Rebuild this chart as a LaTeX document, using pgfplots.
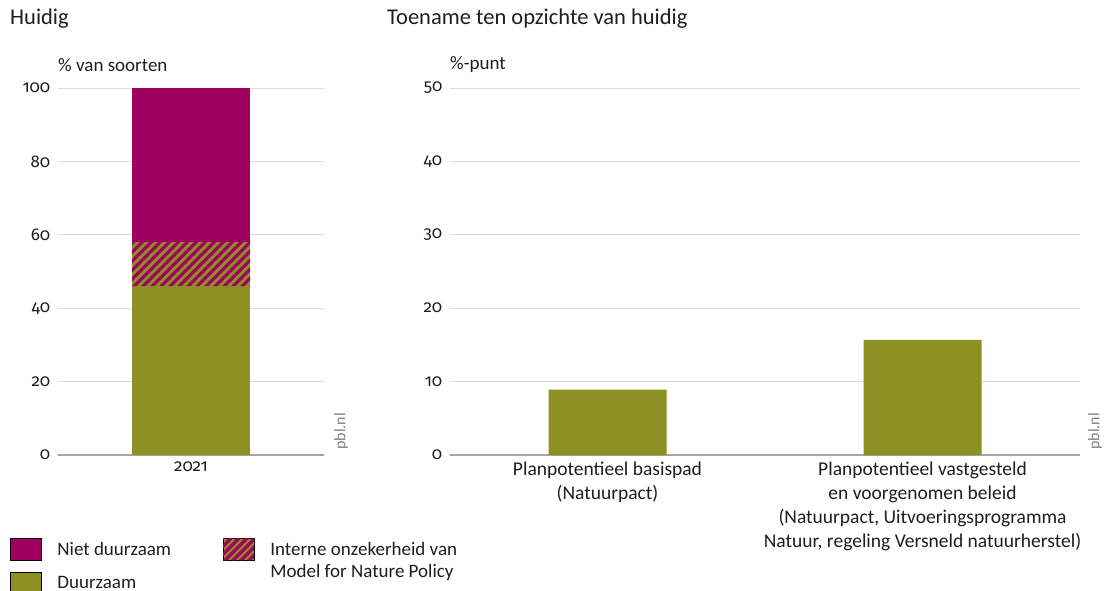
\documentclass[border=0pt]{standalone}
\usepackage{fontspec}
\setmainfont{Carlito}
\newfontfamily\numfont{Fira Sans}[Numbers={OldStyle,Proportional}]
\usepackage{pgfplots}
\pgfplotsset{compat=1.18}
\definecolor{paars}{HTML}{A0005F}
\definecolor{groen}{HTML}{8D9124}
\definecolor{gridc}{HTML}{DCDCDC}
\definecolor{axgray}{HTML}{A5A5A5}
\definecolor{txt}{HTML}{1E1E1E}
\pgfplotsset{
  pbl/.style={
    scale only axis, height=367pt, ymin=0,
    clip=false,
    axis lines*=left,
    y axis line style={draw=none},
    x axis line style={draw=axgray, line width=1.2pt},
    ymajorgrids, grid style={draw=gridc, line width=0.9pt},
    tick style={draw=none}, major tick length=0pt,
    /pgf/number format/assume math mode=true,
    yticklabel style={anchor=east, inner sep=0pt, xshift=-7.5pt, font=\numfont\fontsize{17}{20}\selectfont, text=txt},
    xticklabel style={anchor=north, inner sep=0pt, yshift=-7pt, align=center, text=txt},
    bar width=118pt,
  },
  sq/.style={legend image code/.code={\path[#1] (0pt,-11pt) rectangle (31pt,11pt);}},
  sqstripes/.style={legend image code/.code={%
    \fill[groen] (0pt,-11pt) rectangle (31pt,11pt);
    \begin{scope}
    \clip (0pt,-11pt) rectangle (31pt,11pt);
    \foreach \k in {-6,...,6} {\fill[paars] (\k*8pt,-11pt) -- ++(4pt,0pt) -- ++(40pt,40pt) -- ++(-4pt,0pt) -- cycle;}
    \end{scope}}},
}
\begin{document}
\begin{tikzpicture}[x=1pt,y=1pt]
\path[use as bounding box] (0,0) rectangle (1104,590);
\node[anchor=base west, inner sep=0pt, font=\fontsize{22.5}{26}\selectfont, text=txt] at (10,565) {Huidig};
\node[anchor=base west, inner sep=0pt, font=\fontsize{22.5}{26}\selectfont, text=txt] at (387,565) {Toename ten opzichte van huidig};

% Left axis
\begin{axis}[pbl,
  at={(58pt,135pt)}, anchor=south west,
  width=266pt, ymax=100, ytick={0,20,...,100},
  xmin=-0.5, xmax=0.5, xtick={0}, xticklabels={2021},
  xticklabel style={font=\numfont\fontsize{17}{20}\selectfont},
  ybar stacked, reverse stacked plots=false,
  legend style={at={(-0.1805,-0.2262)}, anchor=north west, draw=none, fill=none,
    inner sep=0pt, outer sep=0pt, font=\fontsize{19}{23}\selectfont,
    /tikz/column sep=16pt, /tikz/row sep=12pt, nodes={inner sep=0pt, text=txt}},
  legend cell align=left,
]
\addplot[fill=groen, draw=none, forget plot] coordinates {(0,46)};
\addplot[fill=groen, draw=none, forget plot] coordinates {(0,12)};
\addplot[fill=paars, draw=none, forget plot] coordinates {(0,42)};
% diagonal stripes over the uncertainty segment (46 to 58)
\pgfplotsextra{%
  \path (axis cs:0,46) coordinate (hb);
  \path (axis cs:0,58) coordinate (ht);
  \begin{scope}
  \clip ([xshift=-59pt]hb) rectangle ([xshift=59pt]ht);
  \begin{scope}[shift={([xshift=-59pt]hb)}]
  \foreach \k in {-8,...,14} {\fill[paars] (\k*9pt,0pt) -- ++(4.5pt,0pt) -- ++(60pt,60pt) -- ++(-4.5pt,0pt) -- cycle;}
  \end{scope}
  \end{scope}}
\addlegendimage{sq={fill=paars}}
\addlegendentry{Niet duurzaam}
\addlegendimage{sq={fill=groen}}
\addlegendentry{Duurzaam}
\node[anchor=west, inner sep=0pt, font=\fontsize{19}{23}\selectfont, text=txt] at (axis description cs:0,1.0627) {\% van soorten};
\node[rotate=90, anchor=west, inner sep=0pt, font=\fontsize{16}{19}\selectfont, text=gray] at (axis description cs:1.064,0.014) {pbl.nl};
\end{axis}

% Right axis
\begin{axis}[pbl,
  at={(450pt,135pt)}, anchor=south west,
  width=630pt, ymax=50, ytick={0,10,...,50},
  xmin=-0.5, xmax=1.5, xtick={0,1},
  xticklabels={{Planpotentieel basispad\\(Natuurpact)},{Planpotentieel vastgesteld\\en voorgenomen beleid\\(Natuurpact, Uitvoeringsprogramma\\Natuur, regeling Versneld natuurherstel)}},
  xticklabel style={font=\fontsize{19.5}{24}\selectfont},
  ybar,
  legend style={at={(-0.3603,-0.2262)}, anchor=north west, draw=none, fill=none,
    inner sep=0pt, outer sep=0pt, font=\fontsize{19}{23}\selectfont,
    /tikz/column sep=16pt, /tikz/row sep=4pt, nodes={inner sep=0pt, text=txt}},
  legend cell align=left,
]
\addplot[fill=groen, draw=none, bar shift=0pt, forget plot] coordinates {(0,8.9) (1,15.7)};
\addlegendimage{sqstripes}
\addlegendentry{Interne onzekerheid van}
\addlegendimage{empty legend}
\addlegendentry{Model for Nature Policy}
\node[anchor=west, inner sep=0pt, font=\fontsize{19}{23}\selectfont, text=txt] at (axis description cs:0,1.0627) {\%-punt};
\node[rotate=90, anchor=west, inner sep=0pt, font=\fontsize{16}{19}\selectfont, text=gray] at (axis description cs:1.024,0.014) {pbl.nl};
\end{axis}
\end{tikzpicture}
\end{document}
